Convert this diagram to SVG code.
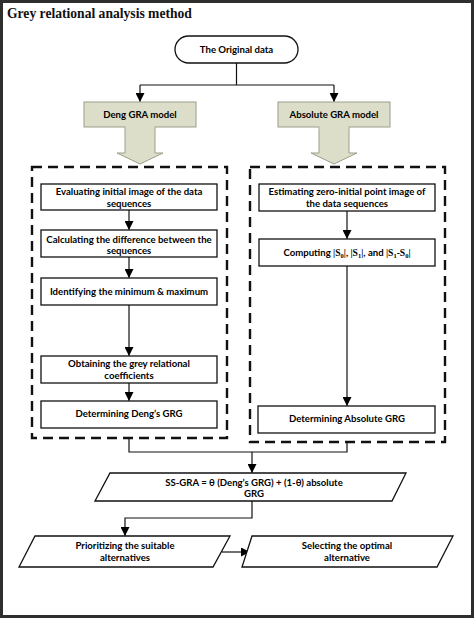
<svg xmlns="http://www.w3.org/2000/svg" width="474" height="618" viewBox="0 0 474 618">
<defs>
<marker id="ah" markerWidth="8" markerHeight="9" refX="9" refY="4.5" orient="auto" markerUnits="userSpaceOnUse">
<path d="M0,0 L9,4.5 L0,9 Z" fill="#000"/>
</marker>
<style>
.t{font-family:Lato,"Liberation Sans",sans-serif;font-weight:bold;font-size:9.6px;fill:#000;text-anchor:middle}
.s{font-family:"Liberation Serif",serif;font-weight:bold}
.box{fill:#fff;stroke:#111;stroke-width:1.3}
.g{fill:#dcdec9;stroke:#9c9e88;stroke-width:1}
.d{fill:none;stroke:#111;stroke-width:2.4;stroke-dasharray:10 6}
.c{fill:none;stroke:#111;stroke-width:1.2}
</style>
</defs>
<rect x="0" y="0" width="474" height="618" fill="#fff"/>
<rect x="1.5" y="1.5" width="471" height="615" fill="none" stroke="#2e2e2e" stroke-width="3"/>
<text x="7" y="18" font-family="'Liberation Serif',serif" font-weight="bold" font-size="13.6" fill="#111">Grey relational analysis method</text>

<g id="dashed-left"><rect class="d" x="32" y="167" width="195" height="271"/></g>
<g id="dashed-right"><rect class="d" x="250" y="167" width="195" height="275"/></g>

<g id="connectors">
<path class="c" d="M236.5,63 V85 M140,85 H334"/>
<path class="c" d="M140,85 V102" marker-end="url(#ah)"/>
<path class="c" d="M334,85 V102" marker-end="url(#ah)"/>
<path class="c" d="M129,210 V230" marker-end="url(#ah)"/>
<path class="c" d="M129,257 V278" marker-end="url(#ah)"/>
<path class="c" d="M129,305 V356" marker-end="url(#ah)"/>
<path class="c" d="M129,383 V401" marker-end="url(#ah)"/>
<path class="c" d="M347,211 V239" marker-end="url(#ah)"/>
<path class="c" d="M347,266 V406" marker-end="url(#ah)"/>
<path class="c" d="M129,438 V452 H347 V442"/>
<path class="c" d="M252,452 V473" marker-end="url(#ah)"/>
<path class="c" d="M252,501 V518 H125 V536" marker-end="url(#ah)"/>
<path class="c" d="M222,552 H250" marker-end="url(#ah)"/>
</g>

<g id="original">
<rect class="box" x="175" y="36" width="123" height="27" rx="13.5" stroke-width="1.6"/>
<text class="t" x="236.5" y="53">The Original data</text>
</g>

<g id="deng-model">
<rect class="g" x="84" y="102" width="112" height="25"/>
<path class="g" d="M125,127 V153 H117 L140,164 L163,153 H155 V127"/>
<rect x="125.5" y="126" width="29" height="3" fill="#dcdec9"/>
<text class="t" x="140" y="118">Deng GRA model</text>
</g>

<g id="abs-model">
<rect class="g" x="278" y="102" width="112" height="25"/>
<path class="g" d="M319,127 V153 H311 L334,164 L357,153 H349 V127"/>
<rect x="319.5" y="126" width="29" height="3" fill="#dcdec9"/>
<text class="t" x="334" y="118">Absolute GRA model</text>
</g>

<g id="l1"><rect class="box" x="41" y="184" width="176" height="26"/>
<text class="t" x="129" y="195">Evaluating initial image of the data</text><text class="t" x="129" y="207">sequences</text></g>
<g id="l2"><rect class="box" x="41" y="230" width="176" height="27"/>
<text class="t" x="129" y="243">Calculating the difference between the</text><text class="t" x="129" y="254">sequences</text></g>
<g id="l3"><rect class="box" x="41" y="278" width="176" height="27"/>
<text class="t" x="129" y="295">Identifying the minimum &amp; maximum</text></g>
<g id="l4"><rect class="box" x="41" y="356" width="176" height="27"/>
<text class="t" x="129" y="367">Obtaining the grey relational</text><text class="t" x="129" y="379">coefficients</text></g>
<g id="l5"><rect class="box" x="41" y="401" width="176" height="27"/>
<text class="t" x="129" y="417">Determining Deng’s GRG</text></g>

<g id="r1"><rect class="box" x="259" y="184" width="176" height="27"/>
<text class="t" x="347" y="195">Estimating zero-initial point image of</text><text class="t" x="347" y="207">the data sequences</text></g>
<g id="r2"><rect class="box" x="259" y="239" width="176" height="27"/>
<text class="t" x="347" y="256">Computing <tspan class="s">|S<tspan font-size="6.5" dy="1.5">0</tspan><tspan dy="-1.5">|</tspan></tspan>, <tspan class="s">|S<tspan font-size="6.5" dy="1.5">1</tspan><tspan dy="-1.5">|</tspan></tspan>, and <tspan class="s">|S<tspan font-size="6.5" dy="1.5">1</tspan><tspan dy="-1.5">-S</tspan><tspan font-size="6.5" dy="1.5">0</tspan><tspan dy="-1.5">|</tspan></tspan></text></g>
<g id="r3"><rect class="box" x="258" y="406" width="177" height="27"/>
<text class="t" x="347" y="422">Determining Absolute GRG</text></g>

<g id="ssgra"><path class="box" d="M110,473 H406 L392,501 H95 Z"/>
<text class="t" x="254" y="486">SS-GRA = θ (Deng’s GRG) + (1-θ) absolute</text><text class="t" x="254" y="497">GRG</text></g>

<g id="prioritize"><path class="box" d="M35,536 H230 L213,567 H19 Z"/>
<text class="t" x="125" y="549">Prioritizing the suitable</text><text class="t" x="125" y="561">alternatives</text></g>

<g id="select"><path class="box" d="M252,536 H453 L437,567 H242 Z"/>
<text class="t" x="347" y="549">Selecting the optimal</text><text class="t" x="347" y="561">alternative</text></g>
</svg>
